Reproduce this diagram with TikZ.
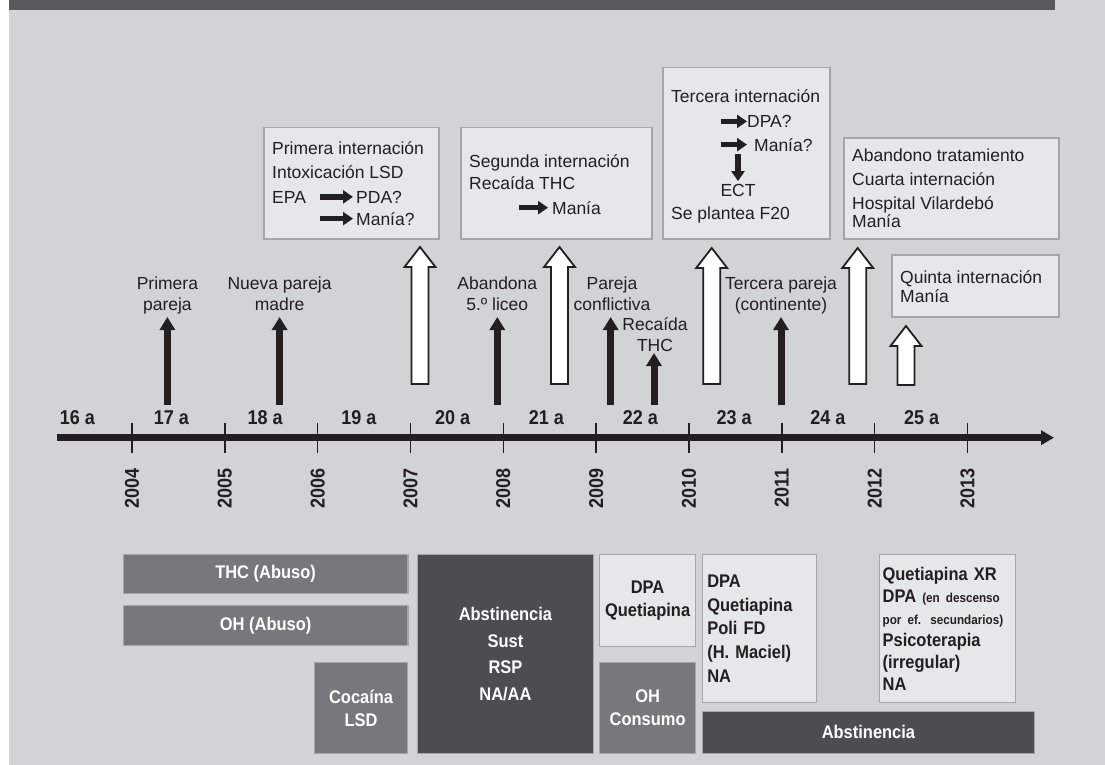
\documentclass[tikz,border=0pt]{standalone}
\usepackage{fontspec}
\setmainfont{Liberation Sans}[BoldFeatures={FakeStretch=0.9}]
\usepackage{tikz}
\usetikzlibrary{positioning}
\usetikzlibrary{arrows.meta}

\definecolor{bggrey}{HTML}{D1D3D4}
\definecolor{bargrey}{HTML}{58595B}
\definecolor{palebox}{HTML}{E6E7E8}
\definecolor{boxline}{HTML}{A4A6A9}
\definecolor{midbox}{HTML}{77787B}
\definecolor{darkbox}{HTML}{4D4D4F}
\definecolor{ink}{HTML}{231F20}

\begin{document}
\begin{tikzpicture}[x=1pt,y=-1pt]
\tikzstyle{txt}=[inner sep=0pt, text=ink, font=\fontsize{17.5}{21}\selectfont]
\tikzstyle{note}=[txt, anchor=base west]
\tikzstyle{lbl}=[txt, anchor=base]
\tikzstyle{age}=[inner sep=0pt, text=ink, font=\bfseries\fontsize{20}{20}\selectfont]
\tikzstyle{year}=[age, rotate=90]
\tikzstyle{axis}=[line width=6.5pt, ink, -{Triangle[length=13pt,width=14pt]}]
\tikzstyle{tick}=[line width=1.6pt, ink]
\tikzstyle{connect}=[line width=7pt, ink, -{Triangle[length=13pt,width=15pt]}]
\tikzstyle{fat}=[line width=5.5pt, ink, -{Triangle[length=10pt,width=13pt]}]
\tikzstyle{event}=[rectangle, draw=boxline, fill=palebox, line width=1.5pt, anchor=north west]
\tikzstyle{drug}=[rectangle, draw=boxline, line width=1.2pt, anchor=north west, align=center, font=\bfseries\fontsize{18.3}{23}\selectfont]
\tikzset{pics/hollow/.style={code={
  \draw[ink, fill=white, line width=1.8pt, line join=miter]
    (-8.5pt,0pt) -- (-8.5pt,#1-20pt) -- (-15.5pt,#1-20pt) -- (0pt,#1)
    -- (15.5pt,#1-20pt) -- (8.5pt,#1-20pt) -- (8.5pt,0pt) -- cycle;}}}

% background
\fill[white] (0,0) rectangle (1105,765);
\fill[bggrey] (9,0) rectangle (1105,765);
\fill[bargrey] (9,0) rectangle (1055,10);
\useasboundingbox (0,0) rectangle (1105,765);

% timeline
\coordinate (start) at (57,437.7);
\coordinate (end) at (1054,437.7);
\foreach \yr [count=\i from 0] in {2004,...,2013} {
  \draw[tick] (132+92.83*\i,422.7) -- (132+92.83*\i,452.7);
  \node[year] (yr\yr) at (132+92.83*\i,488) {\yr};
}
\draw[axis] (start) -- (end);
\foreach \a [count=\i from 0] in {16,...,25}
  \node[age] (age\a) at (77.5+93.8*\i,418) {\a\ a};

% life events
\foreach \x/\t [count=\i] in {167.4/317, 279.6/317, 497.3/317, 610.7/317, 654/353, 781/317}
  \draw[connect] (\x,405) coordinate (foot\i) -- (\x,\t) coordinate (tip\i);
\node[lbl] (ev1a) at (167.4,289) {Primera};
\node[lbl] (ev1b) at (167.4,310.5) {pareja};
\node[lbl] (ev2a) at (279.6,289) {Nueva pareja};
\node[lbl] (ev2b) at (279.6,310.5) {madre};
\node[lbl] (ev3a) at (497.3,289) {Abandona};
\node[lbl] (ev3b) at (497.3,310.5) {5.º liceo};
\node[lbl] (ev4a) at (612,289) {Pareja};
\node[lbl] (ev4b) at (612,310.5) {conflictiva};
\node[lbl] (ev5a) at (655,330) {Recaída};
\node[lbl] (ev5b) at (655,351) {THC};
\node[lbl] (ev6a) at (781,289) {Tercera pareja};
\node[lbl] (ev6b) at (781,310.5) {(continente)};

% admissions
\pic at (420,384) {hollow=137pt};
\pic at (559.5,384) {hollow=137pt};
\pic at (711.7,384) {hollow=136pt};
\pic at (857.7,384) {hollow=136pt};
\pic at (906,385) {hollow=59pt};

\node[event, minimum width=175pt, minimum height=111pt] (int1) at (263,127) {};
\node[event, minimum width=191pt, minimum height=111pt] (int2) at (460,127) {};
\node[event, minimum width=167pt, minimum height=171pt] (int3) at (662,67) {};
\node[event, minimum width=215pt, minimum height=101pt] (int4) at (843,137) {};
\node[event, minimum width=167pt, minimum height=62pt] (int5) at (891,254) {};

\node[note] (i1a) at (272,154) {Primera internación};
\node[note] (i1b) at (272,178) {Intoxicación LSD};
\node[note] (i1c) at (272,203) {EPA};
\node[note] (i1d) at (356,203) {PDA?};
\node[note] (i1e) at (356,225) {Manía?};
\draw[fat] ([xshift=-36pt]i1d.west) -- ([xshift=-3pt]i1d.west);
\draw[fat] ([xshift=-36pt]i1e.west) -- ([xshift=-3pt]i1e.west);

\node[note] (i2a) at (469,167) {Segunda internación};
\node[note] (i2b) at (469,189) {Recaída THC};
\node[note] (i2c) at (552,214) {Manía};
\draw[fat] ([xshift=-33pt]i2c.west) -- ([xshift=-4pt]i2c.west);

\node[note] (i3a) at (671,103) {Tercera internación};
\node[note] (i3b) at (747,127.5) {DPA?};
\node[note] (i3c) at (754,151) {Manía?};
\node[lbl] (i3d) at (738,196.5) {ECT};
\node[note] (i3e) at (671,219) {Se plantea F20};
\draw[fat] ([xshift=-26pt]i3b.west) -- (i3b.west);
\draw[fat] ([xshift=-33pt]i3c.west) -- ([xshift=-7pt]i3c.west);
\draw[fat] ([yshift=30pt]i3d.north) -- ([yshift=3pt]i3d.north);

\node[note] (i4a) at (852,161) {Abandono tratamiento};
\node[note] (i4b) at (852,185) {Cuarta internación};
\node[note] (i4c) at (852,209) {Hospital Vilardebó};
\node[note] (i4d) at (852,227) {Manía};

\node[note] (i5a) at (900,283) {Quinta internación};
\node[note] (i5b) at (900,302) {Manía};

% substances and treatment
\node[drug, fill=midbox, text=white, minimum width=284.6pt, minimum height=39pt] (thc) at (122.7,554) {THC (Abuso)};
\node[drug, fill=midbox, text=white, minimum width=284.6pt, minimum height=40pt] (oh) at (122.7,605) {OH (Abuso)};
\node[drug, fill=midbox, text=white, minimum width=93pt, minimum height=91.3pt] (coc) at (314,661.7) {Cocaína\\LSD};
\node[drug, fill=darkbox, text=white, minimum width=176.3pt, minimum height=199pt,
  font=\bfseries\fontsize{18.3}{26.5}\selectfont] (abs1) at (416.7,554) {Abstinencia\\Sust\\RSP\\NA/AA};
\node[drug, fill=palebox, text=ink, minimum width=96pt, minimum height=92pt, inner xsep=3pt] (dpa1) at (599,554) {DPA\\Quetiapina};
\node[drug, fill=midbox, text=white, minimum width=96pt, minimum height=91.3pt] (ohc) at (599,661.7) {OH\\Consumo};
\node[drug, fill=palebox, text=ink, align=left, inner xsep=5pt, text width=104pt, minimum height=147.7pt,
  font=\bfseries\fontsize{18.3}{23.75}\selectfont] (dpa2) at (701.7,554) {DPA\\Quetiapina\\Poli FD\\(H. Maciel)\\NA};
\node[drug, fill=palebox, text=ink, align=left, inner xsep=3pt, text width=130pt, minimum height=147.7pt,
  font=\bfseries\fontsize{18.3}{22}\selectfont] (xr) at (879,554)
  {Quetiapina XR\\DPA {\fontsize{13}{22}\selectfont(en descenso}\\{\fontsize{13}{22}\selectfont por ef. secundarios)}\\Psicoterapia\\(irregular)\\NA};
\node[drug, fill=darkbox, text=white, minimum width=332.3pt, minimum height=42.3pt] (abs2) at (701.7,710.7) {Abstinencia};
\end{tikzpicture}
\end{document}
